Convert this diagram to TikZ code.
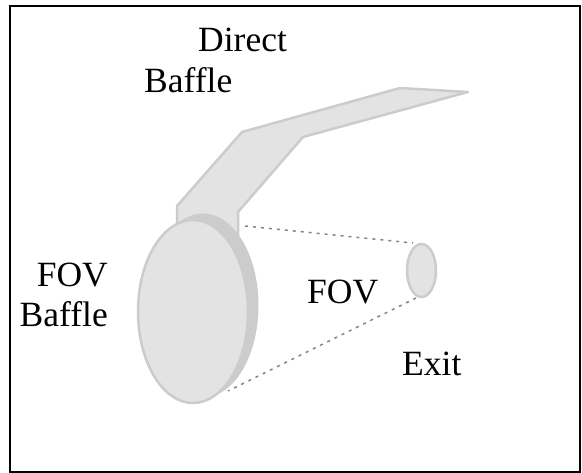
\documentclass[tikz,border=0pt]{standalone}
\usepackage{fontspec}
\setmainfont{Liberation Serif}
\usetikzlibrary{shapes.geometric}
\definecolor{bafflefill}{HTML}{E3E3E3}
\definecolor{bafflerim}{HTML}{CCCCCC}
\definecolor{fovline}{HTML}{858585}
\tikzset{
  label/.style={inner sep=0pt, font=\fontsize{35.5}{40}\selectfont},
  bafflepart/.style={fill=bafflefill, draw=bafflerim, line width=2.5pt, line join=round},
  fovray/.style={draw=fovline, line width=1.5pt, dash pattern=on 3pt off 5pt},
}
\begin{document}
\begin{tikzpicture}[x=1pt, y=-1pt]
\useasboundingbox (0,0) rectangle (582,473);
% frame
\draw[line width=2pt] (10,6) rectangle (580,472);
% direct baffle arm
\draw[bafflepart] (177,250) -- (177,206) -- (242,132) -- (400,88) -- (468,92)
  -- (303,137) -- (238,212) -- (238,250);
% FOV baffle: rim and face
\node[ellipse, fill=bafflerim, minimum width=111pt, minimum height=184pt, inner sep=0pt] (rim) at (203,305.5) {};
\node[ellipse, fill=bafflefill, draw=bafflerim, line width=2.5pt, minimum width=110pt, minimum height=183pt, inner sep=0pt] (fovbaffle) at (193,311.5) {};
% exit pupil
\node[ellipse, fill=bafflefill, draw=bafflerim, line width=2.5pt, minimum width=29pt, minimum height=53pt, inner sep=0pt] (exit) at (421.5,270.5) {};
% FOV rays
\coordinate (rayA) at (245,226);
\coordinate (rayB) at (228,391);
\coordinate (exitA) at (413,243);
\coordinate (exitB) at (416,298);
\draw[fovray] (rayA) -- (exitA);
\draw[fovray] (exitB) -- (rayB);
% labels
\node[label, anchor=base west] (t1) at (198,52) {Direct};
\node[label, anchor=base west] (t2) at (144,93) {Baffle};
\node[label, anchor=base east] (t3) at (108,287) {FOV};
\node[label, anchor=base east] (t4) at (108,327) {Baffle};
\node[label, anchor=base west] (t5) at (307,304) {FOV};
\node[label, anchor=base west] (t6) at (402,376) {Exit};
\end{tikzpicture}
\end{document}
